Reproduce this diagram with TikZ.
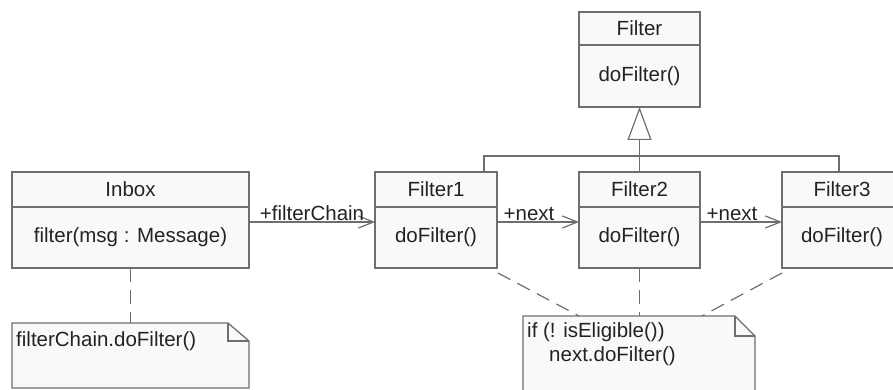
\documentclass[tikz,border=0pt]{standalone}
\usepackage{fontspec}
\setmainfont{Liberation Sans}
\usetikzlibrary{arrows.meta}
\definecolor{ln}{RGB}{110,110,110}
\definecolor{bx}{RGB}{249,249,249}
\definecolor{tx}{RGB}{35,35,35}
\begin{document}
\begin{tikzpicture}[x=1pt,y=-1pt,
  every node/.style={font=\fontsize{20.5}{24}\selectfont, text=tx},
  box/.style={draw=ln, fill=bx, line width=1.3pt, inner sep=0pt, outer sep=0pt},
  hdr/.style={box, minimum height=35pt},
  bdy/.style={box, minimum height=61pt},
  lbl/.style={inner sep=1pt},
  conn/.style={draw=ln, line width=1.2pt},
  assoc/.style={conn, -{Straight Barb[length=15pt,width=12pt,line width=1.2pt]}},
  gen/.style={conn, -{Triangle[open,length=33pt,width=24pt,fill=white,line width=1.2pt]}},
  anchorline/.style={conn, dash pattern=on 14pt off 8pt},
  notebox/.style={draw=none, inner sep=0pt, outer sep=0pt}
]
\useasboundingbox (0,0) rectangle (893,390);

% Filter (abstract)
\node[hdr, minimum width=121pt, minimum height=33pt] (fh) at (639.5,28.5) {Filter};
\node[box, minimum width=121pt, minimum height=62pt] (fb) at (639.5,76) {doFilter()};

% Inbox
\node[hdr, minimum width=237pt] (ih) at (130.5,189.5) {Inbox};
\node[bdy, minimum width=237pt] (ib) at (130.5,237.5) {filter(msg : Message)};

% Filter1..3
\node[hdr, minimum width=122pt] (f1h) at (436,189.5) {Filter1};
\node[bdy, minimum width=122pt] (f1b) at (436,237.5) {doFilter()};
\node[hdr, minimum width=121pt] (f2h) at (639.5,189.5) {Filter2};
\node[bdy, minimum width=121pt] (f2b) at (639.5,237.5) {doFilter()};
\node[hdr, minimum width=120pt] (f3h) at (842,189.5) {Filter3};
\node[bdy, minimum width=120pt] (f3b) at (842,237.5) {doFilter()};

% associations
\draw[assoc] ([yshift=-15pt]ib.north east) -- node[lbl, above] {+filterChain} ([yshift=-15pt]f1b.north west);
\draw[assoc] ([yshift=-15pt]f1b.north east) -- node[lbl, above, xshift=-9pt] {+next} ([yshift=-15pt]f2b.north west);
\draw[assoc] ([yshift=-15pt]f2b.north east) -- node[lbl, above, xshift=-9pt] {+next} ([yshift=-15pt]f3b.north west);

% generalization
\coordinate (bar) at (639.5,156);
\draw[conn] ([xshift=48pt]f1h.north) |- (bar) -| ([xshift=-3pt]f3h.north);
\draw[gen] (f2h.north) -- (bar) -- (fb.south);

% note 1
\node[notebox, minimum width=237pt, minimum height=65pt] (n1) at (130.5,355.5) {};
\draw[box] (n1.north west) -- ([xshift=-21pt]n1.north east) -- ([yshift=-18pt]n1.north east) -- (n1.south east) -- (n1.south west) -- cycle;
\draw[conn, line width=1.1pt] ([xshift=-21pt]n1.north east) |- ([yshift=-18pt]n1.north east);
\node[anchor=west, inner sep=0pt] (n1t) at (16,341) {filterChain.doFilter()};
\draw[anchorline] (ib.south) -- (n1.north);

% note 2
\node[notebox, minimum width=232pt, minimum height=90pt] (n2) at (639,361) {};
\draw[box] (n2.north west) -- ([xshift=-20pt]n2.north east) -- ([yshift=-20pt]n2.north east) -- (n2.south east) -- (n2.south west) -- cycle;
\draw[conn, line width=1.1pt] ([xshift=-20pt]n2.north east) |- ([yshift=-20pt]n2.north east);
\node[anchor=north west, inner sep=0pt, align=left] (n2t) at (527,322) {if (! isEligible())\\\hspace{22pt}next.doFilter()};
\draw[anchorline] ([xshift=1pt,yshift=-5pt]f1b.south east) -- ([xshift=-60pt]n2.north);
\draw[anchorline] (f2b.south) -- (f2b.south |- n2.north);
\draw[anchorline] ([yshift=-5pt]f3b.south west) -- ([xshift=63pt]n2.north);
\end{tikzpicture}
\end{document}
